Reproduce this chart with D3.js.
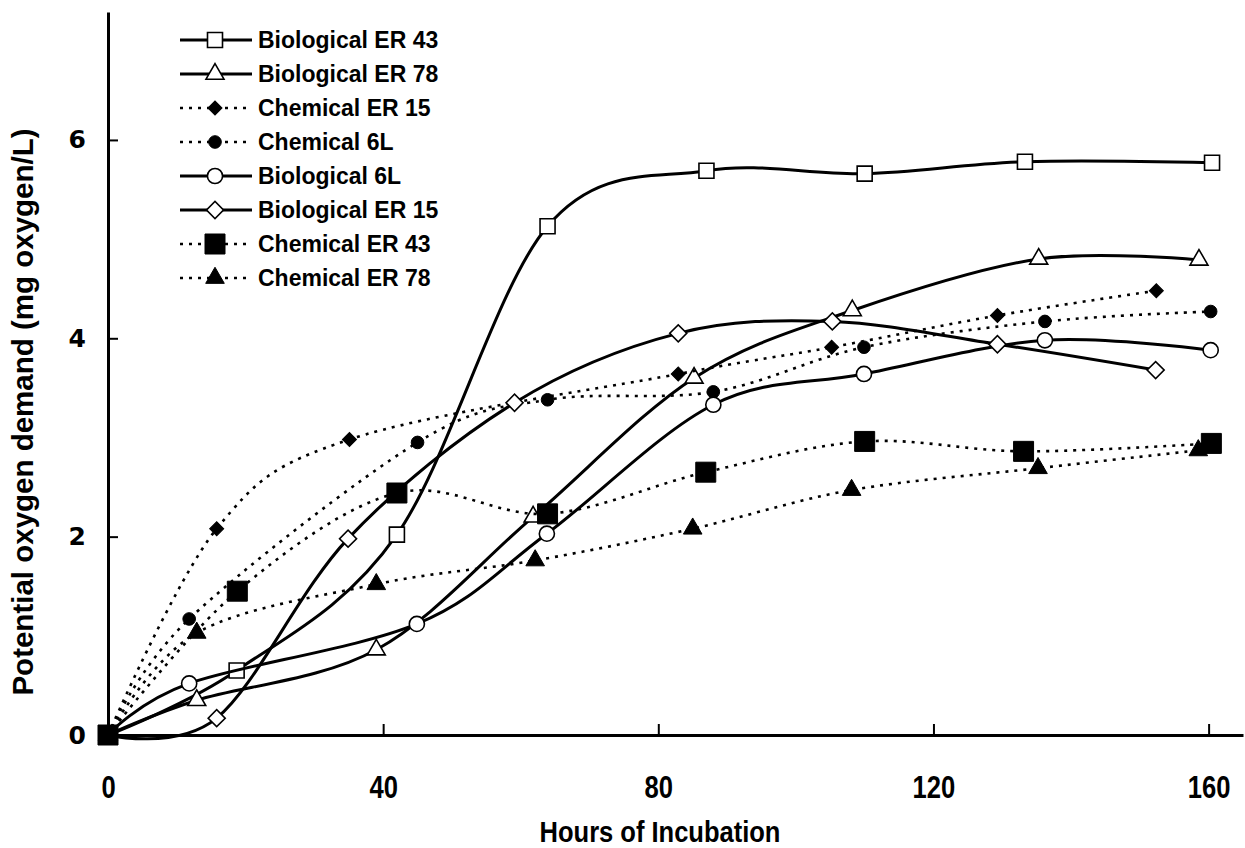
<!DOCTYPE html>
<html>
<head>
<meta charset="utf-8">
<script src="https://cdn.jsdelivr.net/npm/d3@7"></script>
<style>
  body { margin: 0; background: #fff; }
  svg { display: block; }
</style>
</head>
<body>
<svg id="chart"></svg>
<script>
var width = 1245;
var height = 848;

// sampling times (hours) and readings (mg oxygen/L), one pair per treatment
var seriesNames = ['Biological ER 43', 'Biological ER 78', 'Chemical ER 15', 'Chemical 6L',
  'Biological 6L', 'Biological ER 15', 'Chemical ER 43', 'Chemical ER 78'];

var bioER43Hours = [0, 18.7, 42.0, 63.9, 87.0, 110.0, 133.3, 160.5];
var bioER43Values = [0, 0.65, 2.02, 5.13, 5.69, 5.66, 5.78, 5.77];
var bioER78Hours = [0, 12.9, 39.0, 61.8, 85.2, 108.2, 135.3, 158.6];
var bioER78Values = [0, 0.35, 0.86, 2.20, 3.60, 4.28, 4.80, 4.79];
var chemER15Hours = [0, 15.8, 35.1, 82.9, 105.2, 129.3, 152.4];
var chemER15Values = [0, 2.08, 2.98, 3.64, 3.91, 4.23, 4.48];
var chem6LHours = [0, 11.8, 45.0, 63.9, 88.0, 109.9, 136.2, 160.3];
var chem6LValues = [0, 1.17, 2.95, 3.38, 3.46, 3.91, 4.17, 4.27];
var bio6LHours = [0, 11.8, 44.9, 63.8, 88.0, 109.9, 136.2, 160.3];
var bio6LValues = [0, 0.52, 1.12, 2.03, 3.33, 3.64, 3.98, 3.88];
var bioER15Hours = [0, 15.8, 34.9, 59.1, 82.9, 105.3, 129.3, 152.3];
var bioER15Values = [0, 0.17, 1.98, 3.35, 4.05, 4.17, 3.94, 3.68];
var chemER43Hours = [0, 18.8, 42.0, 63.9, 86.9, 110.0, 133.1, 160.4];
var chemER43Values = [0, 1.45, 2.44, 2.23, 2.65, 2.96, 2.86, 2.94];
var chemER78Hours = [0, 12.9, 39.0, 62.1, 85.0, 108.1, 135.2, 158.5];
var chemER78Values = [0, 1.03, 1.52, 1.76, 2.08, 2.47, 2.69, 2.87];

var xTicks = [0, 40, 80, 120, 160];
var yTicks = [0, 2, 4, 6];

var hours = [bioER43Hours, bioER78Hours, chemER15Hours, chem6LHours,
  bio6LHours, bioER15Hours, chemER43Hours, chemER78Hours];
var values = [bioER43Values, bioER78Values, chemER15Values, chem6LValues,
  bio6LValues, bioER15Values, chemER43Values, chemER78Values];

// marker look for each treatment (same order as seriesNames)
var markers = [
  {type: d3.symbolSquare, size: 225, rotate: 0, filled: false, dotted: false},
  {type: d3.symbolTriangle, size: 140, rotate: 0, filled: false, dotted: false},
  {type: d3.symbolSquare, size: 98, rotate: 45, filled: true, dotted: true},
  {type: d3.symbolCircle, size: 125, rotate: 0, filled: true, dotted: true},
  {type: d3.symbolCircle, size: 180, rotate: 0, filled: false, dotted: false},
  {type: d3.symbolSquare, size: 145, rotate: 45, filled: false, dotted: false},
  {type: d3.symbolSquare, size: 400, rotate: 0, filled: true, dotted: true},
  {type: d3.symbolTriangle, size: 150, rotate: 0, filled: true, dotted: true}
];

var series = seriesNames.map(function (name, i) {
  return {
    name: name,
    style: markers[i],
    points: hours[i].map(function (h, j) { return {h: h, v: values[i][j]}; })
  };
});

var svg = d3.select('#chart').attr('width', width).attr('height', height);

var x = d3.scaleLinear().domain([0, 165]).range([108, 1243]);
var y = d3.scaleLinear().domain([0, 7.29]).range([735, 12]);

// axes, ticks point inward
var xAxis = svg.append('g')
  .attr('transform', 'translate(0,735)')
  .call(d3.axisBottom(x).tickValues(xTicks).tickSizeInner(-11).tickSizeOuter(0).tickPadding(40));
var yAxis = svg.append('g')
  .attr('transform', 'translate(108,0)')
  .call(d3.axisLeft(y).tickValues(yTicks).tickSizeInner(-10).tickSizeOuter(0).tickPadding(22));

[xAxis, yAxis].forEach(function (g) {
  g.select('.domain').attr('stroke', '#000').attr('stroke-width', 3);
  g.selectAll('.tick line').attr('stroke', '#000').attr('stroke-width', 2);
  g.selectAll('.tick text').attr('fill', '#000').attr('font-weight', 'bold');
});
xAxis.selectAll('.tick text')
  .attr('font-family', 'Liberation Sans, Arial, sans-serif')
  .attr('font-size', 32)
  .attr('transform', 'scale(0.8,1)');
yAxis.selectAll('.tick text')
  .attr('font-family', 'DejaVu Sans, sans-serif')
  .attr('font-size', 25);

svg.append('text')
  .attr('transform', 'translate(660,842) scale(0.88,1)')
  .attr('text-anchor', 'middle')
  .attr('font-family', 'Liberation Sans, Arial, sans-serif')
  .attr('font-weight', 'bold').attr('font-size', 29)
  .text('Hours of Incubation');

svg.append('text')
  .attr('transform', 'translate(33,412) rotate(-90)')
  .attr('text-anchor', 'middle')
  .attr('font-family', 'Liberation Sans, Arial, sans-serif')
  .attr('font-weight', 'bold').attr('font-size', 29.5)
  .text('Potential oxygen demand (mg oxygen/L)');

var line = d3.line()
  .x(function (d) { return x(d.h); })
  .y(function (d) { return y(d.v); })
  .curve(d3.curveCardinal.tension(0));

function drawMarker(sel, st) {
  sel.attr('d', d3.symbol().type(st.type).size(st.size)())
    .attr('fill', st.filled ? '#000' : '#fff')
    .attr('stroke', '#000')
    .attr('stroke-width', st.filled ? 1 : 1.6);
}

var plot = svg.append('g');
series.forEach(function (s) {
  var g = plot.append('g');
  g.append('path')
    .datum(s.points)
    .attr('d', line)
    .attr('fill', 'none')
    .attr('stroke', '#000')
    .attr('stroke-width', s.style.dotted ? 2.6 : 3)
    .attr('stroke-dasharray', s.style.dotted ? '3,6' : null);
  g.selectAll('path.mk')
    .data(s.points)
    .enter().append('path')
    .attr('class', 'mk')
    .attr('transform', function (d) {
      return 'translate(' + x(d.h) + ',' + y(d.v) + ') rotate(' + s.style.rotate + ')';
    })
    .call(drawMarker, s.style);
});

// legend
var legend = svg.append('g');
series.forEach(function (s, i) {
  var ly = 40 + i * 34;
  legend.append('line')
    .attr('x1', 180).attr('x2', 252).attr('y1', ly).attr('y2', ly)
    .attr('stroke', '#000')
    .attr('stroke-width', s.style.dotted ? 2.6 : 3)
    .attr('stroke-dasharray', s.style.dotted ? '3,6' : null);
  legend.append('path')
    .attr('transform', 'translate(215,' + ly + ') rotate(' + s.style.rotate + ')')
    .call(drawMarker, s.style);
  legend.append('text')
    .attr('x', 258).attr('y', ly + 8)
    .attr('font-family', 'Liberation Sans, Arial, sans-serif')
    .attr('font-weight', 'bold').attr('font-size', 23)
    .text(s.name);
});
</script>
</body>
</html>
